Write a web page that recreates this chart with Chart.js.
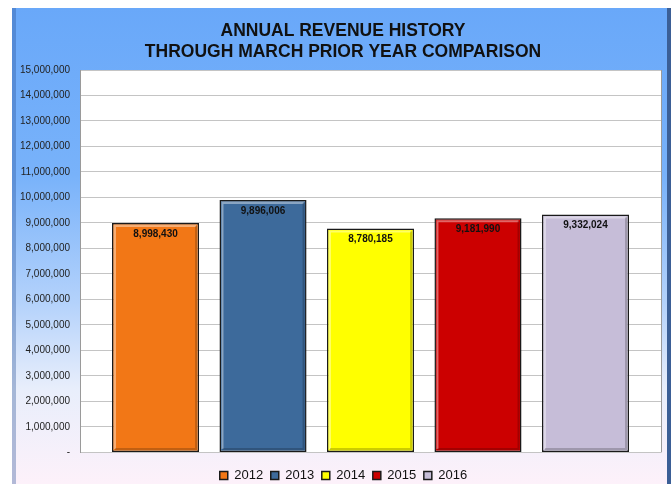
<!DOCTYPE html>
<html>
<head>
<meta charset="utf-8">
<script src="https://cdn.jsdelivr.net/npm/chart.js@4"></script>
<style>
  html, body { margin: 0; padding: 0; background: #fff; }
  #wrap { width: 671px; height: 484px; }
</style>
</head>
<body>
<div id="wrap"><canvas id="rev"></canvas></div>
<script>
// ---- data ----
const years = ['2012', '2013', '2014', '2015', '2016'];
const revenue = [8998430, 9896006, 8780185, 9181990, 9332024];
const barColors = ['#f27716', '#3d6a9b', '#ffff00', '#cc0000', '#c6bdd8'];
const titleLines = ['ANNUAL REVENUE HISTORY', 'THROUGH MARCH PRIOR YEAR COMPARISON'];
const yMax = 15000000;
const yStep = 1000000;

const fmt = (v) => v.toLocaleString('en-US');

// frame + plot background
const framePlugin = {
  id: 'frame',
  afterLayout(chart) {
    // nudge legend / title toward where the original sits
    const lg = chart.legend;
    lg.left += 14;
    lg.top += 9;
    lg.bottom += 9;
    chart.titleBlock.left += 13;
  },
  beforeDraw(chart) {
    const { ctx, width, height, chartArea: a } = chart;
    ctx.save();
    ctx.fillStyle = '#fff';
    ctx.fillRect(0, 0, width, height);
    const g = ctx.createLinearGradient(0, 8, 0, height);
    g.addColorStop(0, '#69a8f9');
    g.addColorStop(0.35, '#78b2fa');
    g.addColorStop(0.62, '#b4d2fb');
    g.addColorStop(0.8, '#e8eefb');
    g.addColorStop(1, '#fdf1fa');
    ctx.fillStyle = g;
    ctx.fillRect(12, 8, 655, height - 8);
    // left darker edge
    ctx.fillStyle = 'rgba(40,80,150,0.35)';
    ctx.fillRect(12, 8, 4, height - 8);
    // right dark strip
    ctx.fillStyle = '#3b5f96';
    ctx.fillRect(667, 8, 4, height - 8);
    // plot area
    ctx.fillStyle = '#fff';
    ctx.fillRect(a.left, a.top, a.right - a.left, a.bottom - a.top);
    ctx.restore();
  },
  afterDraw(chart) {
    const { ctx, chartArea: a } = chart;
    ctx.save();
    ctx.strokeStyle = '#9a9a9a';
    ctx.lineWidth = 1;
    ctx.beginPath();
    ctx.moveTo(a.right + 0.5, a.top);
    ctx.lineTo(a.right + 0.5, a.bottom);
    ctx.stroke();
    ctx.restore();
  }
};

// bevel + value labels on bars
const barLabelPlugin = {
  id: 'barLabels',
  afterDatasetsDraw(chart) {
    const { ctx } = chart;
    ctx.save();
    chart.data.datasets.forEach((ds, i) => {
      const meta = chart.getDatasetMeta(i);
      meta.data.forEach((bar, j) => {
        const l = bar.x - bar.width / 2, r = bar.x + bar.width / 2;
        const t = bar.y, b = bar.base;
        // bevel
        ctx.lineWidth = 2;
        ctx.strokeStyle = 'rgba(255,255,255,0.4)';
        ctx.beginPath();
        ctx.moveTo(l + 3, b - 3);
        ctx.lineTo(l + 3, t + 3);
        ctx.lineTo(r - 3, t + 3);
        ctx.stroke();
        ctx.strokeStyle = 'rgba(0,0,0,0.2)';
        ctx.beginPath();
        ctx.moveTo(r - 3, t + 3);
        ctx.lineTo(r - 3, b - 3);
        ctx.lineTo(l + 3, b - 3);
        ctx.stroke();
        // label
        ctx.fillStyle = '#111';
        ctx.font = 'bold 10px "Liberation Sans", Arial, sans-serif';
        ctx.textAlign = 'center';
        ctx.textBaseline = 'middle';
        ctx.fillText(fmt(ds.data[j]), bar.x, t + 11);
      });
    });
    ctx.restore();
  }
};

const datasets = years.map((y, i) => ({
  label: y,
  data: [revenue[i]],
  backgroundColor: barColors[i],
  borderColor: '#1a1a1a',
  borderWidth: 1.5,
  borderSkipped: false,
  categoryPercentage: 0.925,
  barPercentage: 0.81
}));

Chart.defaults.font.family = '"Liberation Sans", Arial, sans-serif';

new Chart(document.getElementById('rev'), {
  type: 'bar',
  data: { labels: ['Revenue'], datasets },
  options: {
    responsive: true,
    maintainAspectRatio: false,
    animation: false,
    layout: { padding: { left: 12, right: 10, top: 8, bottom: 1 } },
    plugins: {
      title: {
        display: true,
        text: titleLines,
        color: '#111',
        font: { size: 17.5, weight: 'bold' },
        lineHeight: 1.2,
        padding: { top: 12.5, bottom: 7.5 }
      },
      legend: {
        position: 'bottom',
        labels: {
          color: '#111',
          font: { size: 13 },
          boxWidth: 8,
          boxHeight: 8,
          padding: 7.6
        }
      },
      tooltip: { enabled: false }
    },
    scales: {
      x: { display: false },
      y: {
        min: 0,
        max: yMax,
        afterFit(s) { s.width = 68; },
        ticks: {
          stepSize: yStep,
          color: '#222',
          font: { size: 10 },
          padding: 10,
          callback: (v) => (v === 0 ? '-' : fmt(v))
        },
        grid: { color: '#c4c4c4', drawTicks: false },
        border: { color: '#9a9a9a' }
      }
    }
  },
  plugins: [framePlugin, barLabelPlugin]
});
</script>
</body>
</html>
